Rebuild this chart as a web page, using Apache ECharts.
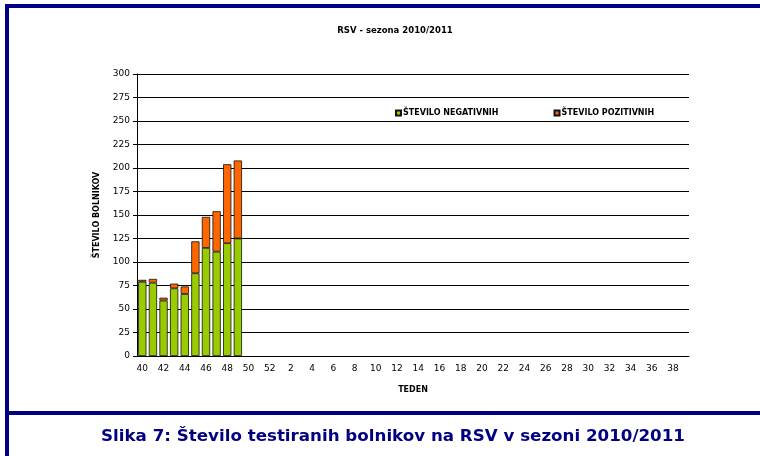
<!DOCTYPE html>
<html>
<head>
<meta charset="utf-8">
<script src="https://cdn.jsdelivr.net/npm/echarts@6/dist/echarts.min.js"></script>
<style>
  html, body { margin: 0; padding: 0; background: #fff; }
  #chart { width: 760px; height: 456px; }
</style>
</head>
<body>
<div id="chart"></div>
<script>
// tedni sezone 2010/2011: 40..52, nato 1..39
const weeks = ['40','41','42','43','44','45','46','47','48','49','50','51','52',
  '1','2','3','4','5','6','7','8','9','10','11','12','13','14','15','16','17','18','19',
  '20','21','22','23','24','25','26','27','28','29','30','31','32','33','34','35','36','37','38','39'];
const negativni = [79, 78, 59, 72, 66, 88, 115, 111, 120, 125];
const pozitivni = [2, 4, 3, 5, 8, 34, 33, 43, 84, 83];

const navy = '#000080';
const chart = echarts.init(document.getElementById('chart'));

chart.setOption({
    animation: false,
    grid: {left: 137, right: 71, top: 74, bottom: 100},
    legend: {
        top: 104,
        left: 390,
        itemWidth: 5,
        itemHeight: 5,
        itemGap: 55,
        icon: 'rect',
        textStyle: {fontFamily: 'DejaVu Sans', fontWeight: 'bold', fontSize: 8, color: '#000', padding: [0, 0, 0, -3]},
        data: ['ŠTEVILO NEGATIVNIH', 'ŠTEVILO POZITIVNIH']
    },
    xAxis: {
        type: 'category',
        data: weeks,
        name: 'TEDEN',
        nameLocation: 'middle',
        nameGap: 30,
        nameTextStyle: {fontFamily: 'DejaVu Sans', fontWeight: 'bold', fontSize: 8, color: '#000'},
        axisLine: {lineStyle: {color: '#000', width: 1}},
        axisTick: {interval: 0, length: 4, lineStyle: {color: '#000'}},
        axisLabel: {interval: 1, fontFamily: 'DejaVu Sans', fontSize: 9, color: '#000', margin: 8}
    },
    yAxis: {
        type: 'value',
        min: 0,
        max: 300,
        interval: 25,
        name: 'ŠTEVILO BOLNIKOV',
        nameLocation: 'middle',
        nameGap: 36,
        nameTextStyle: {fontFamily: 'DejaVu Sans', fontWeight: 'bold', fontSize: 8, color: '#000'},
        axisLine: {show: true, lineStyle: {color: '#000', width: 1}},
        axisTick: {show: true, length: 4, lineStyle: {color: '#000'}},
        axisLabel: {fontFamily: 'DejaVu Sans', fontSize: 9, color: '#000', margin: 7},
        splitLine: {lineStyle: {color: '#000', width: 1}}
    },
    series: [
        {
            name: 'ŠTEVILO NEGATIVNIH',
            type: 'bar',
            stack: 'skupaj',
            barCategoryGap: '22%',
            data: negativni,
            itemStyle: {color: '#99cc00', borderColor: '#111', borderWidth: 0.8}
        },
        {
            name: 'ŠTEVILO POZITIVNIH',
            type: 'bar',
            stack: 'skupaj',
            barCategoryGap: '22%',
            data: pozitivni,
            itemStyle: {color: '#ff6600', borderColor: '#111', borderWidth: 0.8}
        }
    ],
    graphic: [
        {type: 'rect', shape: {x: 5, y: 4, width: 755, height: 4}, style: {fill: navy}},
        {type: 'rect', shape: {x: 5, y: 4, width: 4, height: 452}, style: {fill: navy}},
        {type: 'rect', shape: {x: 5, y: 411, width: 755, height: 4}, style: {fill: navy}},
        {
            type: 'text',
            style: {x: 395, y: 31, text: 'RSV - sezona 2010/2011', textAlign: 'center', textVerticalAlign: 'middle',
                font: 'bold 8.5px "DejaVu Sans"', fill: '#000'}
        },
        {
            type: 'text',
            style: {x: 393, y: 437, text: 'Slika 7: Število testiranih bolnikov na RSV v sezoni 2010/2011',
                textAlign: 'center', textVerticalAlign: 'middle', font: 'bold 16.7px "DejaVu Sans"', fill: navy}
        }
    ]
});
</script>
</body>
</html>
